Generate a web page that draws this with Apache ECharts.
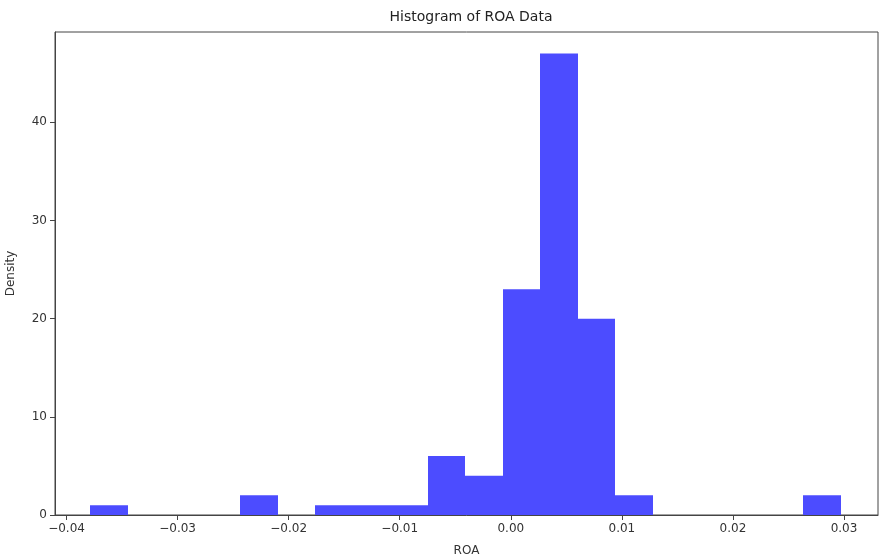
<!DOCTYPE html>
<html>
<head>
<meta charset="utf-8">
<script src="https://cdn.jsdelivr.net/npm/echarts@6/dist/echarts.min.js"></script>
<style>
  html, body { margin: 0; padding: 0; background: #fff; }
  #chart { width: 881px; height: 560px; }
</style>
</head>
<body>
<div id="chart"></div>
<script>
// Histogram bin edges (20 bins) and the density of each bin
const binEdges = [-0.03787, -0.03449, -0.03111, -0.02774, -0.02436, -0.02098,
  -0.01760, -0.01422, -0.01085, -0.00747, -0.00409, -0.00071, 0.00267,
  0.00605, 0.00942, 0.01280, 0.01618, 0.01956, 0.02294, 0.02631, 0.02969];
const density = [1, 0, 0, 0, 2, 0, 1, 1, 1, 6, 4, 23, 47, 20, 2, 0, 0, 0, 0, 2];

const xTicks = [-0.04, -0.03, -0.02, -0.01, 0.00, 0.01, 0.02, 0.03];
const yTicks = [0, 10, 20, 30, 40];

const xRange = [-0.04104, 0.03306];
const yRange = [0, 49.2];

const bins = density.map((d, i) => [binEdges[i], binEdges[i + 1], d]);

const font = 'DejaVu Sans';
const chart = echarts.init(document.getElementById('chart'), null, { renderer: 'canvas' });

chart.setOption({
  animation: false,
  backgroundColor: '#ffffff',
  title: {
    text: 'Histogram of ROA Data',
    left: 466, top: 5, textAlign: 'center',
    textStyle: { fontFamily: font, fontSize: 14, fontWeight: 'normal', color: '#222' }
  },
  grid: {
    left: 55, right: 3, top: 32, bottom: 45,
    outerBoundsMode: 'none',
    show: true, borderColor: '#444', borderWidth: 1, backgroundColor: 'transparent'
  },
  xAxis: {
    type: 'value',
    min: xRange[0], max: xRange[1],
    name: 'ROA', nameLocation: 'middle', nameGap: 30,
    nameTextStyle: { fontFamily: font, fontSize: 12, color: '#333' },
    splitLine: { show: false },
    axisLine: { show: true, onZero: false, lineStyle: { color: '#444' } },
    axisTick: { show: true, length: 5, customValues: xTicks, lineStyle: { color: '#444' } },
    axisLabel: {
      customValues: xTicks, margin: 8,
      fontFamily: font, fontSize: 12, color: '#333',
      formatter: v => (v < 0 ? '\u2212' : '') + Math.abs(v).toFixed(2)
    }
  },
  yAxis: {
    type: 'value',
    min: yRange[0], max: yRange[1],
    name: 'Density', nameLocation: 'middle', nameGap: 38,
    nameTextStyle: { fontFamily: font, fontSize: 12, color: '#333' },
    splitLine: { show: false },
    axisLine: { show: true, onZero: false, lineStyle: { color: '#444' } },
    axisTick: { show: true, length: 5, customValues: yTicks, lineStyle: { color: '#444' } },
    axisLabel: {
      customValues: yTicks, margin: 8,
      fontFamily: font, fontSize: 12, color: '#333'
    }
  },
  series: [{
    type: 'custom',
    data: bins,
    encode: { x: [0, 1], y: 2 },
    renderItem: (params, api) => {
      const h = api.value(2);
      if (!h) return null;
      // snap bin edges to whole pixels so neighbouring bars join without seams
      const p0 = api.coord([api.value(0), h]);
      const p1 = api.coord([api.value(1), 0]);
      const x0 = Math.round(p0[0]), x1 = Math.round(p1[0]);
      return {
        type: 'rect',
        shape: { x: x0, y: p0[1], width: x1 - x0, height: p1[1] - p0[1] },
        style: { fill: '#4c4cff' }
      };
    }
  }]
});
</script>
</body>
</html>
